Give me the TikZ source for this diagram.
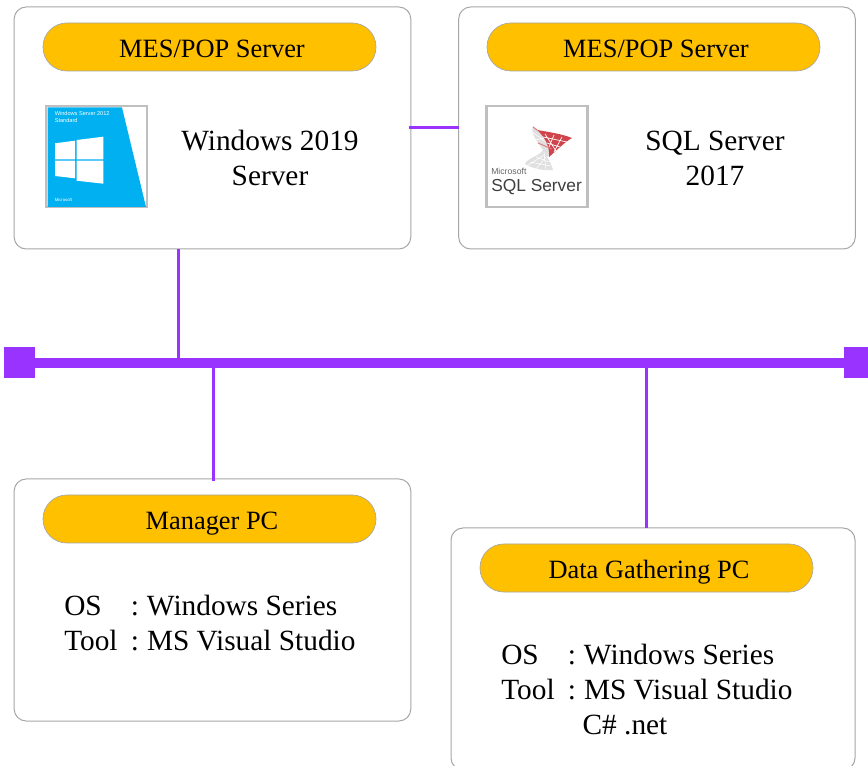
\documentclass[tikz,border=0pt]{standalone}
\usepackage{fontspec}
\setmainfont{Liberation Serif}
\newfontfamily\logofont{Liberation Sans}
\usetikzlibrary{positioning}
\definecolor{busviolet}{HTML}{9933FF}
\definecolor{pillamber}{HTML}{FFC000}
\definecolor{winblue}{HTML}{00B0F0}
\definecolor{sqlred}{HTML}{D0454C}

\begin{document}
\begin{tikzpicture}[x=0.75pt, y=-0.75pt,
hostbox/.style={rectangle, rounded corners=9pt, draw=black!35, fill=white, line width=0.75pt, minimum width=297.5pt, minimum height=181.5pt},
titlepill/.style={rectangle, rounded corners=17.9pt, draw=black!35, fill=pillamber, line width=0.5pt, minimum width=249.75pt, minimum height=36pt, text height=15.8pt, text depth=0pt, font=\fontsize{19.8}{19.8}\selectfont, execute at begin node=\hspace*{3.75pt}},
hosttext/.style={align=center, font=\fontsize{22}{26.25}\selectfont},
specsheet/.style={align=left, anchor=north west, inner sep=0pt, font=\fontsize{22}{26.25}\selectfont},
logoframe/.style={rectangle, draw=black!25, fill=white, line width=1.75pt, minimum size=75.75pt},
busend/.style={rectangle, fill=busviolet, minimum size=23.25pt, inner sep=0pt},
buswire/.style={rectangle, fill=busviolet, minimum width=606.75pt, minimum height=7.5pt, inner sep=0pt},
link/.style={draw=busviolet, line width=2.25pt},
]
\useasboundingbox (0,0) rectangle (868,766);
\clip (0,0) rectangle (868,766);
%Lines
\coordinate (winfoot) at (178,249);
\coordinate (winside) at (409,128);
\coordinate (sqlside) at (459,128);
\coordinate (managertop) at (213,481);
\coordinate (gathertop) at (646,528);

%Nodes
\node[hostbox]      (winbox)      at (212.5,128)      {};
\node[hostbox]      (sqlbox)      at (657,128)        {};
\node[hostbox]      (managerbox)  at (212.5,600)      {};
\node[hostbox, minimum width=303pt]   (gatherbox)   at (653,649)        {};
\node[titlepill]    (winpill)     at (209.5,47)       {MES/POP Server};
\node[titlepill]    (sqlpill)     at (653.5,47)       {MES/POP Server};
\node[titlepill]    (managerpill) at (209.5,519)      {Manager PC};
\node[titlepill]    (gatherpill)  at (646.5,568)      {Data Gathering PC};
\node[hosttext]     (wintext)     at (270,158)        {Windows 2019\\Server};
\node[hosttext]     (sqltext)     at (715,158)        {SQL Server\\2017};
\node[specsheet]    (managerspec) at (64,595)   {\makebox[50pt][l]{OS}:\hspace{0.27em}Windows Series\\\makebox[50pt][l]{Tool}:\hspace{0.27em}MS Visual Studio};
\node[specsheet]    (gatherspec)  at (501,644)  {\makebox[50pt][l]{OS}:\hspace{0.27em}Windows Series\\\makebox[50pt][l]{Tool}:\hspace{0.27em}MS Visual Studio\\\makebox[61pt]{}C\# .net};
\node[buswire]      (bus)         at (439.5,363)      {};
\node[busend]       (busleft)     at (19.5,362.5)     {};
\node[busend]       (busright)    at (859.5,362.5)    {};
\node[logoframe]    (winlogo)     at (96.5,156.5)     {};
\node[logoframe]    (sqllogo)     at (537,156.5)      {};

%Windows logo
\fill[winblue] (47.5,107.5) -- (122,107.5) -- (146,207) -- (47.5,207) -- cycle;
\fill[white] (55,143.3) -- (75,140.7) -- (75,159.3) -- (55,159.3) -- cycle;
\fill[white] (76.7,140) -- (103.3,136.7) -- (103.3,159.3) -- (76.7,159.3) -- cycle;
\fill[white] (55,160.7) -- (75,160.7) -- (75,178.3) -- (55,176) -- cycle;
\fill[white] (76.7,160.7) -- (103.3,160.7) -- (103.3,183.7) -- (76.7,180.7) -- cycle;
\node[inner sep=0pt, anchor=north west, align=left, text=white, font=\logofont\fontsize{4.2}{5.25}\selectfont] (wincaption) at (54.5,111) {Windows Server 2012\\Standard};
\node[inner sep=0pt, anchor=west, text=white, font=\logofont\fontsize{3.2}{4}\selectfont] (winmaker) at (54.5,200) {Microsoft};

%SQL logo
\fill[black!12] (533,126) .. controls (530,134) and (538,142) .. (543,150) .. controls (540,156) and (527,158) .. (525,164) .. controls (533,169) and (546,171) .. (553,170) .. controls (552,165) and (549,161) .. (547,157) -- (556,151) .. controls (552,143) and (542,132) .. (533,126) -- cycle;
\draw[white, line width=0.4pt] (530,162) -- (551,166) (536,157) -- (549,162) (527,166) -- (544,155) (536,169) -- (546,157) (546,170) -- (544,152) (532,132) -- (550,145) (535,140) -- (545,138);
\fill[sqlred] (537,130) .. controls (549,132) and (562,134) .. (572,138) .. controls (565,142) and (558,149) .. (549,157) .. controls (550,148) and (546,138) .. (537,130) -- cycle;
\draw[white, line width=0.5pt] (545,134) -- (556,151) (554,135) -- (549,147) (562,137) -- (554,152) (543,137) -- (567,142) (547,143) -- (560,147);
\draw[sqlred!70, line width=0.7pt] (533,127) -- (537,130) (538,143) -- (552,149);
\node[inner sep=0pt, anchor=base west, text=black!60, font=\logofont\fontsize{6.5}{7}\selectfont] (sqlmaker) at (491,175) {Microsoft};
\node[inner sep=0pt, anchor=base west, text=black!75, font=\logofont\fontsize{13}{14}\selectfont] (sqlname) at (491,192) {SQL Server};

%Links
\draw[link] (winfoot) -- (winfoot |- bus.north);
\draw[link] (winside) -- (sqlside);
\draw[link] (managertop) -- (managertop |- bus.south);
\draw[link] (gathertop) -- (gathertop |- bus.south);
\end{tikzpicture}
\end{document}
